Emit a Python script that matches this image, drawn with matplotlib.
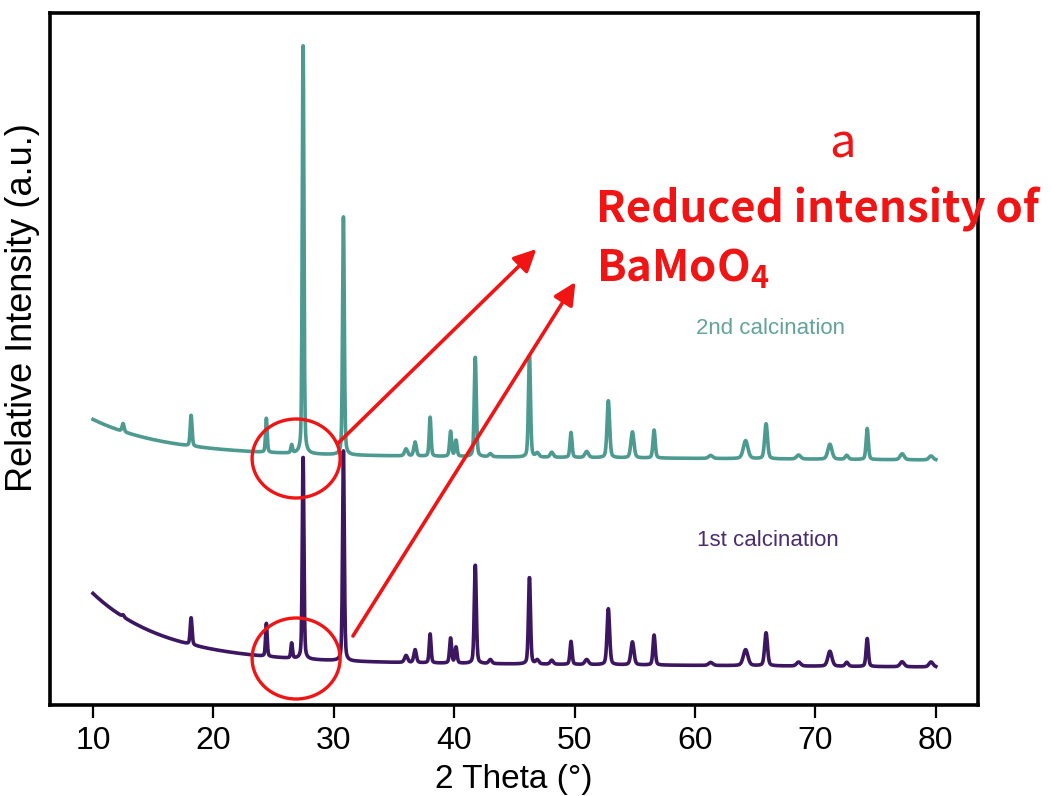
import numpy as np
import matplotlib
matplotlib.use("Agg")
import matplotlib.pyplot as plt
from matplotlib.patches import Ellipse

# ---------------- data ----------------
two_theta_start, two_theta_end, two_theta_step = 10.0, 80.0, 0.02

peak_pos = [12.5, 18.15, 24.4, 26.5, 27.45, 30.8, 36.0, 36.75, 38.0, 39.7,
            40.15, 41.75, 43.0, 46.25, 46.9, 48.1, 49.7, 51.0, 52.8, 54.8,
            56.6, 61.3, 64.2, 65.9, 68.6, 71.2, 72.6, 74.3, 77.2, 79.6]
peak_fwhm = [0.20, 0.18, 0.16, 0.16, 0.16, 0.17, 0.30, 0.25, 0.18, 0.20,
             0.20, 0.20, 0.30, 0.20, 0.30, 0.30, 0.20, 0.35, 0.25, 0.30,
             0.22, 0.40, 0.45, 0.28, 0.40, 0.40, 0.30, 0.22, 0.40, 0.40]
intensity_2nd = [8, 31, 34, 8, 413, 238, 7, 14, 39, 25,
                 16, 100, 3, 102, 4, 5, 25, 6, 57, 26,
                 28, 3, 18, 35, 4, 15, 4, 31, 6, 4]
intensity_1st = [2, 27, 33, 15, 204, 210, 7, 13, 29, 25,
                 16, 99, 4, 87, 4, 4, 23, 5, 56, 23,
                 30, 3, 16, 33, 4, 15, 4, 28, 5, 5]

# background: level at 30 deg, linear slope, low-angle rise amplitude, decay (deg)
background_2nd = {"level": 249.0, "slope": -0.08, "amp": 35.0, "decay": 6.0}
background_1st = {"level": 42.0, "slope": -0.08, "amp": 68.0, "decay": 6.0}

x_ticks = [10, 20, 30, 40, 50, 60, 70, 80]
label_1st = "1st calcination"
label_2nd = "2nd calcination"


def pattern(x, heights, bg):
    y = bg["level"] + bg["slope"] * (x - 30.0) + bg["amp"] * np.exp(-(x - two_theta_start) / bg["decay"])
    for p, w, h in zip(peak_pos, peak_fwhm, heights):
        d = (x - p) / w
        g = np.exp(-4.0 * np.log(2.0) * d ** 2)
        lz = 1.0 / (1.0 + 4.0 * d ** 2)
        y = y + h * (0.65 * g + 0.35 * lz)
    return y


x = np.arange(two_theta_start, two_theta_end + 1e-9, two_theta_step)
y1 = pattern(x, intensity_1st, background_1st)
y2 = pattern(x, intensity_2nd, background_2nd)

# ---------------- figure ----------------
plt.rcParams["font.family"] = ["Liberation Sans", "DejaVu Sans"]
plt.rcParams["mathtext.fontset"] = "custom"
plt.rcParams["mathtext.rm"] = "Noto Sans CJK SC:bold"
plt.rcParams["mathtext.default"] = "rm"

W, H = 1051, 796
fig = plt.figure(figsize=(W / 100, H / 100), dpi=100)
ax = fig.add_axes([50 / W, 1 - 705 / H, 928 / W, 692 / H])

purple = "#3c1660"
teal = "#4d9a90"
ax.plot(x, y1, color=purple, lw=2.6, zorder=2)
ax.plot(x, y2, color=teal, lw=2.6, zorder=3)

ax.set_xlim(6.43, 83.5)
ax.set_ylim(0, 692)
ax.set_yticks([])
ax.set_xticks(x_ticks)
ax.tick_params(axis="x", direction="out", length=9, width=1.6, labelsize=23, pad=6)
for s in ax.spines.values():
    s.set_linewidth(2.6)

ax.set_xlabel("2 Theta (°)", fontsize=24, labelpad=6)
ax.set_ylabel("Relative Intensity (a.u.)", fontsize=26)
ax.yaxis.set_label_coords(-0.011, 0.575)

ax.text(60.1, 377, label_2nd, color="#62a39b", fontsize=16, va="center", ha="left")
ax.text(60.2, 165, label_1st, color="#4b2d6b", fontsize=16, va="center", ha="left")

red = "#f01414"
# ellipses around the 24-28 deg region
ax.add_patch(Ellipse((26.87, 246.5), 88 / 12.04, 79, fill=False, ec=red, lw=2.4, zorder=5, clip_on=False))
ax.add_patch(Ellipse((26.87, 46.5), 88 / 12.04, 81, fill=False, ec=red, lw=2.4, zorder=5, clip_on=False))

arrow_kw = dict(arrowstyle="-|>,head_length=0.45,head_width=0.22", color=red, lw=2.6,
                mutation_scale=30, shrinkA=0, shrinkB=0)
ax.annotate("", xy=(46.83, 456), xytext=(30.37, 262), arrowprops=arrow_kw, zorder=6)
ax.annotate("", xy=(50.07, 423), xytext=(31.59, 69), arrowprops=arrow_kw, zorder=6)

fig.text(596 / W, 1 - 222 / H, "Reduced intensity of", color=red, fontsize=31.5,
         fontweight="bold", family=["Noto Sans CJK SC", "DejaVu Sans"], va="baseline", ha="left")
fig.text(596 / W, 1 - 282 / H, "BaMoO$_4$", color=red, fontsize=31.5,
         fontweight="bold", family=["Noto Sans CJK SC", "DejaVu Sans"], va="baseline", ha="left")
fig.text(843 / W, 1 - 158 / H, "a", color=red, fontsize=34, fontweight="light",
         family=["Noto Sans CJK SC", "DejaVu Sans"], va="baseline", ha="center")

fig.savefig("out.png", dpi=100)
